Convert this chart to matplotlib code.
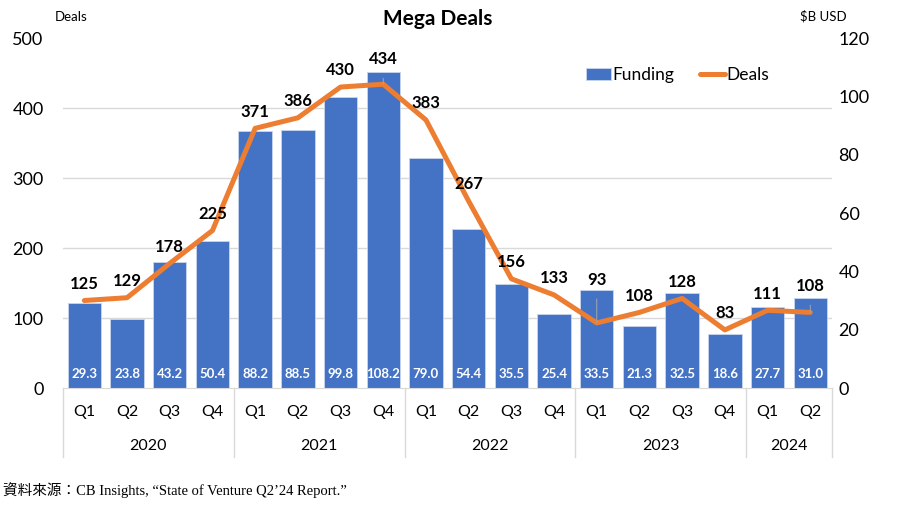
import numpy as np
import matplotlib.pyplot as plt
from matplotlib.transforms import blended_transform_factory

quarters = ['Q1', 'Q2', 'Q3', 'Q4'] * 4 + ['Q1', 'Q2']
years = ['2020', '2021', '2022', '2023', '2024']
year_sizes = [4, 4, 4, 4, 2]
funding = [29.3, 23.8, 43.2, 50.4, 88.2, 88.5, 99.8, 108.2, 79.0, 54.4,
           35.5, 25.4, 33.5, 21.3, 32.5, 18.6, 27.7, 31.0]
deals = [125, 129, 178, 225, 371, 386, 430, 434, 383, 267,
         156, 133, 93, 108, 128, 83, 111, 108]

blue = '#4472C4'
orange = '#ED7D31'
grid_c = '#D9D9D9'
font = 'Lato'

fig = plt.figure(figsize=(9, 5.09), dpi=100)
ax = fig.add_axes([0.07, 0.2377, 0.854, 0.6876])
ax2 = ax.twinx()

x = np.arange(len(quarters))

# bars on the funding axis (right side)
bars = ax.bar(x, funding, width=0.78, color=blue, edgecolor='#C9D6EE',
              linewidth=0.6, label='Funding', zorder=2)
ax.set_ylim(0, 120)
ax.set_xlim(-0.5, len(quarters) - 0.5)
ax.set_yticks(np.arange(0, 121, 20))
ax.yaxis.tick_right()
ax.set_yticks(np.arange(0, 121, 24), minor=True)
ax.grid(axis='y', which='minor', color=grid_c, lw=1, zorder=0)
ax.tick_params(axis='y', which='both', length=0, labelsize=13, pad=5)
ax.set_yticklabels([str(v) for v in range(0, 121, 20)], fontfamily=font)

# line on the deals axis (left side)
ax2.plot(x, deals, color=orange, lw=3.6, solid_joinstyle='round',
         solid_capstyle='round', label='Deals', zorder=3)
ax2.set_ylim(0, 500)
ax2.set_yticks(np.arange(0, 501, 100))
ax2.yaxis.tick_left()
ax2.tick_params(axis='y', length=0, labelsize=13, pad=14)
ax2.set_yticklabels([str(v) for v in range(0, 501, 100)], fontfamily=font)

for a in (ax, ax2):
    for s in a.spines.values():
        s.set_visible(False)
ax.spines['bottom'].set_visible(True)
ax.spines['bottom'].set_color(grid_c)

# x axis: quarters + years
ax.set_xticks(x)
ax.set_xticklabels(quarters, fontfamily=font, fontsize=11.5)
ax.tick_params(axis='x', length=0, pad=12)
trans = blended_transform_factory(ax.transData, ax.transAxes)
edges = np.concatenate([[0], np.cumsum(year_sizes)]) - 0.5
for e in edges:
    ax.plot([e, e], [0, -0.197], transform=trans, color=grid_c, lw=1,
            clip_on=False)
for yr, a0, a1 in zip(years, edges[:-1], edges[1:]):
    ax.text((a0 + a1) / 2, -0.166, yr, transform=trans, ha='center',
            va='center', fontsize=11.5, fontfamily=font)

# funding labels
for i, v in enumerate(funding):
    ax.annotate(f'{v:.1f}', (i, 0), xytext=(0, 10), textcoords='offset points',
                ha='center', va='center', color='white', fontweight='bold',
                fontsize=9.5, fontfamily=font, zorder=4)

# deals labels
offsets = {7: 18, 12: 31, 17: 19}
for i, v in enumerate(deals):
    off = offsets.get(i, 12)
    kw = {}
    if i in offsets:
        kw['arrowprops'] = dict(arrowstyle='-', color='#A6A6A6', lw=0.7,
                                shrinkA=6, shrinkB=0)
    ax2.annotate(str(v), (i, v), xytext=(0, off), textcoords='offset points',
                 ha='center', va='center', fontweight='bold', fontsize=12,
                 fontfamily=font, zorder=5, **kw)

# titles and units
fig.text(0.486, 0.963, 'Mega Deals', ha='center', va='center', fontsize=15,
         fontweight='bold', fontfamily=font)
fig.text(0.061, 0.966, 'Deals', ha='left', va='center', fontsize=9.5,
         fontfamily=font)
fig.text(0.889, 0.968, '$B USD', ha='left', va='center', fontsize=9.5,
         fontfamily=font)

h1, l1 = ax.get_legend_handles_labels()
h2, l2 = ax2.get_legend_handles_labels()
fig.legend(h1 + h2, l1 + l2, loc='center', bbox_to_anchor=(0.753, 0.853),
           ncol=2, frameon=False, prop={'family': font, 'size': 12.5},
           handlelength=1.4, handletextpad=0.1, columnspacing=1.5)

fig.text(0.003, 0.037, '資料來源：CB Insights, “State of Venture Q2’24 Report.”',
         ha='left', va='center', fontsize=10.5,
         fontfamily=['Liberation Serif', 'Noto Sans CJK TC'])

fig.savefig('out.png', dpi=100, facecolor='white')
